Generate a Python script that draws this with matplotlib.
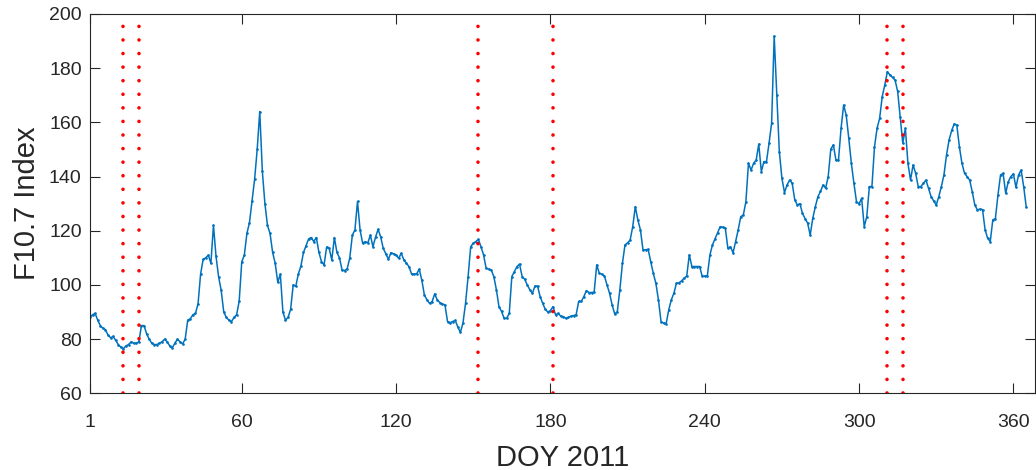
import matplotlib
matplotlib.use("Agg")
import matplotlib.pyplot as plt
import numpy as np

# F10.7 daily values, DOY 1..365 (2011)
f107_jan_mar = [88, 89, 89.5, 87, 85, 84, 83.5, 81.5, 80.5, 81,
                79.5, 78, 77, 76.5, 77.5, 78, 79, 78.5, 78.5, 79,
                85, 85, 82, 80, 78.5, 78, 78, 78.5, 79, 80,
                79, 77.5, 76.8, 78.5, 80, 79, 78.2, 80, 87, 87.5,
                89, 89.5, 93, 104, 109.5, 110, 111, 108, 122, 110.5,
                103, 98, 90, 88, 87, 86.5, 88, 89, 94, 108.5,
                111, 119, 123, 131, 139, 150, 164, 142, 130, 122,
                119, 112, 108, 101, 104, 90, 87, 88, 91, 100,
                99.5, 104, 107, 112, 114.5, 117, 117.5, 116, 117.5, 112]
f107_apr_jun = [108.6, 107.4, 114, 113.5, 109.2, 117.5, 112, 110, 105.5, 105.3,
                106, 110, 118.4, 120.3, 130.8, 120.3, 115.4, 116, 115.5, 118.4,
                114.1, 117.6, 120.5, 117.8, 113.5, 111.5, 109.5, 111.9, 111.5, 111,
                109.8, 111.7, 109.3, 108, 106.8, 104.1, 104, 104.1, 105.8, 101.8,
                96.3, 94.5, 93.2, 93.8, 96.7, 94.5, 93.5, 93, 92.6, 86.5,
                86.1, 86.5, 86.9, 84.5, 82.5, 85.9, 93.2, 103.1, 114.1, 115.4,
                116, 116.8, 114.1, 111.1, 106.2, 105.8, 105.5, 103.1, 98.2, 92,
                90.2, 87.7, 87.7, 89.5, 103.1, 104.9, 106.8, 107.7, 103.1, 102.1,
                100, 98.2, 96.9, 99.6, 99.6, 95.7]
f107_jul_sep = [93.2, 91, 90, 90.5, 92, 89, 89.5, 88.5, 88.3, 87.7,
                88, 88.5, 88.7, 89, 93.9, 93.9, 95.7, 97.9, 97.2, 97.2,
                97.3, 107.4, 104.3, 104, 103.3, 100, 96.9, 92.6, 89.3, 90.1,
                98.2, 108, 114.8, 115.5, 116.6, 121.5, 128.9, 124, 120.3, 112.9,
                113, 113.1, 108.6, 104.3, 100.6, 94.5, 86.5, 85.9, 85.7, 90.8,
                94.5, 96.9, 100.6, 100.8, 101.5, 102.5, 103.3, 111.1, 106.8, 106.8,
                106.8, 106.8, 103.3, 103.3, 103.3, 111, 114.8, 117, 119.1, 121.5,
                121.3, 121, 113.5, 114.1, 111.9, 116, 120.3, 125.2, 125.8, 130.7,
                144.9, 142.4, 144.9, 146.1, 152, 141.8, 145.5, 145.5, 152.3, 159.7,
                191.9, 170.1, 149.2, 139.4]
f107_oct_dec = [134.1, 136.9, 138.7, 137.5, 131.4, 129.5, 130, 126.4, 124.5, 122.8,
                118.4, 124.6, 128.9, 132.6, 134.5, 136.9, 135.7, 140, 150.1, 151.7,
                146.1, 146.1, 157.8, 166.4, 162.7, 154.1, 144.9, 137.5, 130.7, 129.9,
                132, 121.5, 125.2, 136.3, 136.3, 151, 157.8, 161.5, 169.5, 173.8,
                178.7, 177.5, 176.6, 175.6, 171.4, 162, 152.3, 157.8, 144.9, 138.7,
                144.3, 141.2, 136.3, 136.3, 137.5, 138.7, 135.7, 132.6, 131, 129.5,
                132.6, 136.3, 140.6, 148, 153.5, 157, 159.4, 159, 151, 144.9,
                141.2, 140, 138.7, 134.4, 129.5, 127.7, 128, 127.8, 120.3, 117.2,
                116, 124, 124.5, 133.2, 140.6, 141.2, 133.8, 138.1, 140, 141,
                136, 140.6, 142.4, 136.3, 128.7]

f107 = f107_jan_mar + f107_apr_jun + f107_jul_sep + f107_oct_dec
doy = list(range(1, len(f107) + 1))

event_doys = [14, 20, 152, 181, 311, 317]

x_ticks = [1, 60, 120, 180, 240, 300, 360]
y_ticks = [60, 80, 100, 120, 140, 160, 180, 200]

plt.rcParams['font.family'] = ['Liberation Sans', 'DejaVu Sans']

fig = plt.figure(figsize=(10.36, 4.70), dpi=100)
ax = fig.add_axes([90/1036, 1 - 393.3/470, (1035 - 90)/1036, (393.3 - 14)/470])

ax.plot(doy, f107, color='#0072BD', lw=1.1, marker='.', ms=1.8, zorder=2)
for d in event_doys:
    ax.plot([d, d], [60, 200], color='red', lw=2.6, zorder=3,
            linestyle=(0, (0.01, 3.75)), dash_capstyle='round')

ax.set_xlim(1, 368.4)
ax.set_ylim(60, 200)
ax.set_xticks(x_ticks)
ax.set_yticks(y_ticks)
dark = '#262626'
ax.tick_params(direction='in', top=True, right=True, length=7, width=0.8,
               colors=dark, labelsize=14)
ax.tick_params(axis='x', pad=15)
ax.tick_params(axis='y', pad=6)
for s in ax.spines.values():
    s.set_color(dark)
    s.set_linewidth(0.8)
ax.set_xlabel('DOY 2011', fontsize=21, color=dark, labelpad=9)
ax.set_ylabel('F10.7 Index', fontsize=21, color=dark, labelpad=6)

fig.savefig('out.png', dpi=100)
